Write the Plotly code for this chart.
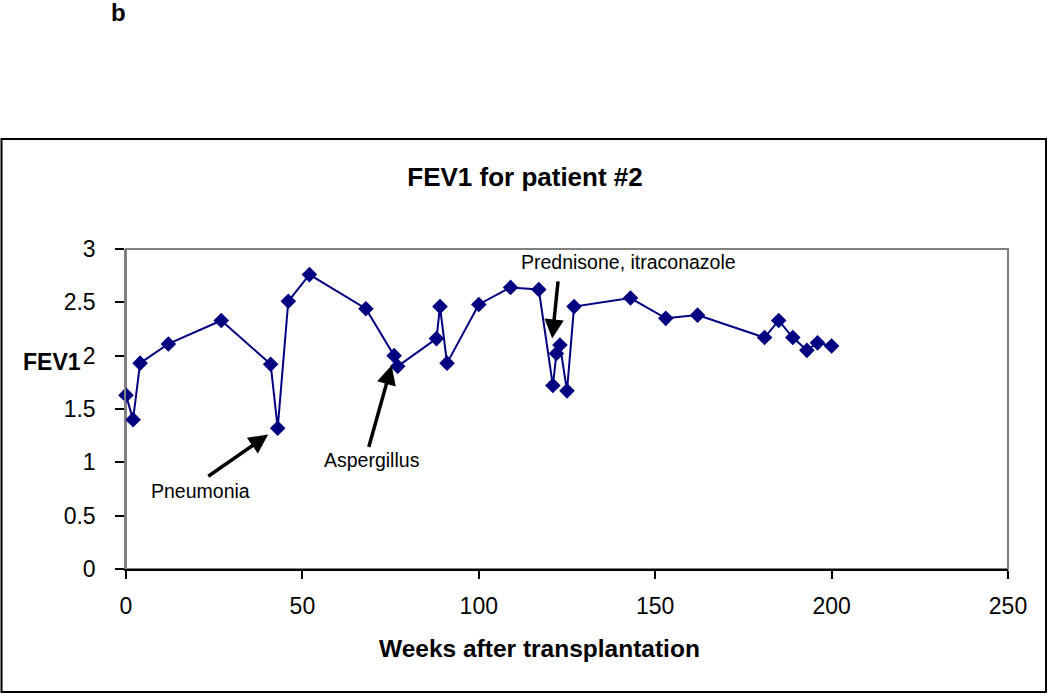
import plotly.graph_objects as go

# FEV1 measurements for patient #2
weeks = [0, 2, 4, 12, 27, 41, 43, 46, 52, 68, 76, 77, 88, 89, 91, 100, 109, 117,
         121, 122, 123, 125, 127, 143, 153, 162, 181, 185, 189, 193, 196, 200]
fev1 = [1.63, 1.40, 1.93, 2.11, 2.33, 1.92, 1.32, 2.51, 2.76, 2.44, 2.00, 1.90,
        2.16, 2.46, 1.93, 2.48, 2.64, 2.62, 1.72, 2.02, 2.10, 1.67, 2.46, 2.54,
        2.35, 2.38, 2.17, 2.33, 2.17, 2.05, 2.12, 2.09]

# event labels: (text, arrow tip, arrow tail, text position)
events = [
    ("Pneumonia", (40.3, 1.26), (22.9, 0.86), (21.0, 0.73)),
    ("Aspergillus", (75.3, 1.91), (68.7, 1.13), (69.6, 1.02)),
    ("Prednisone, itraconazole", (120.8, 2.16), (122.5, 2.71), (142.3, 2.88)),
]

W, H = 1050, 696
FONT = "Liberation Sans, Arial, sans-serif"

fig = go.Figure()
fig.add_trace(go.Scatter(
    x=weeks, y=fev1, mode="lines+markers",
    line=dict(color="#000080", width=2),
    marker=dict(symbol="diamond", size=12, color="#000080"),
    cliponaxis=False, showlegend=False,
))

annotations = []
for text, tip, tail, pos in events:
    annotations.append(dict(
        x=tip[0], y=tip[1], ax=tail[0], ay=tail[1], xref="x", yref="y",
        axref="x", ayref="y", text="", showarrow=True,
        arrowhead=2, arrowsize=1.1, arrowwidth=3.5, arrowcolor="black",
    ))
    annotations.append(dict(
        x=pos[0], y=pos[1], xref="x", yref="y", text=text, showarrow=False,
        font=dict(family=FONT, size=19.5, color="black"),
    ))

# axis titles (Excel style: horizontal y label, x title centred on the chart)
annotations.append(dict(
    x=83 / W, y=1 - 362 / H, xref="paper", yref="paper", text="<b>FEV1</b>",
    showarrow=False, xanchor="right", yanchor="middle",
    font=dict(family=FONT, size=23, color="black"),
))
annotations.append(dict(
    x=539 / W, y=1 - 648 / H, xref="paper", yref="paper",
    text="<b>Weeks after transplantation</b>",
    showarrow=False, xanchor="center", yanchor="middle",
    font=dict(family=FONT, size=24.5, color="black"),
))
# panel letter
annotations.append(dict(
    x=118 / W, y=1 - 12 / H, xref="paper", yref="paper", text="<b>b</b>",
    showarrow=False, xanchor="center", yanchor="middle",
    font=dict(family=FONT, size=24, color="black"),
))

shapes = [
    # outer chart border
    dict(type="rect", xref="paper", yref="paper",
         x0=1.5 / W, x1=1046 / W, y0=1 - 692 / H, y1=1 - 139 / H,
         line=dict(color="black", width=2), layer="below"),
    # plot area frame
    dict(type="rect", xref="x domain", yref="y domain", x0=0, x1=1, y0=0, y1=1,
         line=dict(color="#808080", width=2), layer="below"),
]

fig.update_layout(
    width=W, height=H,
    margin=dict(l=0, r=0, t=0, b=0),
    paper_bgcolor="white", plot_bgcolor="white",
    font=dict(family=FONT, color="black"),
    title=dict(text="<b>FEV1 for patient #2</b>", x=0.5, xref="paper",
               y=1 - 177 / H, yref="paper", xanchor="center", yanchor="middle",
               font=dict(family=FONT, size=26, color="black")),
    annotations=annotations,
    shapes=shapes,
    xaxis=dict(
        domain=[126 / W, 1008 / W], range=[0, 250], dtick=50, automargin=False,
        showgrid=False, zeroline=False, showline=True, linecolor="black", linewidth=1.5,
        ticks="outside", ticklen=8, tickcolor="black", tickwidth=1.5,
        ticklabelstandoff=8,
        tickfont=dict(family=FONT, size=23, color="black"),
    ),
    yaxis=dict(
        domain=[1 - 569 / H, 1 - 249 / H], range=[0, 3], dtick=0.5, automargin=False,
        showgrid=False, zeroline=False, showline=True, linecolor="#808080", linewidth=1.5,
        ticks="outside", ticklen=9, tickcolor="black", tickwidth=1.5,
        ticklabelstandoff=15,
        tickfont=dict(family=FONT, size=23, color="black"),
    ),
)

# drop the default page margin so the figure fills the window exactly
fig.write_html("out.html", config={"displayModeBar": False},
               post_script="document.body.style.margin='0';")
